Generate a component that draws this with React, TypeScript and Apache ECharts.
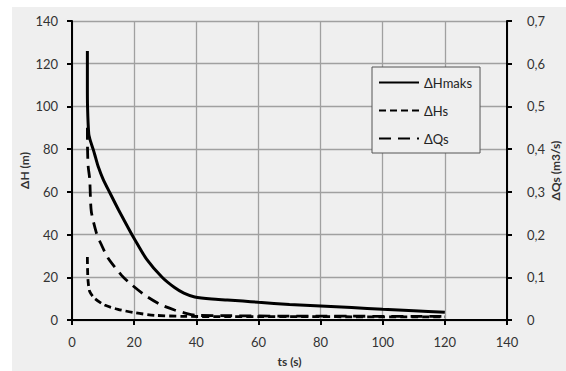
import React, { useEffect, useRef } from "react";
import * as echarts from "echarts";

// ΔHmaks (left axis, m)
const tHmaks = [4.95, 4.95, 5.0, 5.4, 6.0, 6.8, 7.6, 8.4, 10.0, 12.1, 15.0, 18.9, 20.0, 24.0, 29.0, 33.0, 36.0, 39.5, 45.0, 50.0, 55.0, 60.0, 70.0, 80.0, 90.0, 100.0, 110.0, 120.0];
const hmaks = [126, 110, 100, 87, 83.5, 80, 76, 72, 66, 59.8, 51.5, 41, 38.2, 28.5, 20, 15.2, 12.6, 10.8, 9.8, 9.4, 8.9, 8.3, 7.3, 6.6, 5.8, 5.0, 4.3, 3.6];

// ΔHs (left axis, m)
const tHs = [4.95, 5.0, 5.15, 5.7, 7.3, 10.5, 14.8, 20.2, 26.6, 36.3, 50, 60, 70, 80, 90, 100, 110, 120];
const hs = [29.5, 24, 18.7, 13.3, 10.1, 7.0, 5.0, 3.4, 2.2, 1.7, 1.6, 1.6, 1.6, 1.6, 1.5, 1.5, 1.5, 1.5];

// ΔQs (right axis, m3/s)
const tQs = [4.95, 5.0, 5.2, 5.7, 6.2, 7.8, 8.9, 11.6, 15.9, 18.0, 23.4, 28.8, 33.0, 37.0, 40.0, 50, 60, 70, 80, 90, 100, 110, 120];
const qs = [0.45, 0.4, 0.36, 0.33, 0.255, 0.205, 0.185, 0.145, 0.105, 0.09, 0.0585, 0.035, 0.0235, 0.015, 0.011, 0.01, 0.0095, 0.009, 0.009, 0.009, 0.0085, 0.0085, 0.0085];

const xTicks = { min: 0, max: 140, interval: 20 };
const leftTicks = { min: 0, max: 140, interval: 20 };
const rightTicks = { min: 0, max: 0.7, interval: 0.1 };

const zip = (a: number[], b: number[]) => a.map((v, i) => [v, b[i]]);

const FONT = "Lato, 'Open Sans', sans-serif";
const TXT = "#333333";

export default function App() {
  const ref = useRef<HTMLDivElement>(null);
  useEffect(() => {
    if (!ref.current) return;
    const chart = echarts.init(ref.current, undefined, { renderer: "svg" });
    const axisLine = { show: true, lineStyle: { color: "#000", width: 2 } };
    const axisTick = { show: true, length: 5, lineStyle: { color: "#000", width: 2 } };
    const splitLine = { show: true, lineStyle: { color: "#a0a0a0", width: 1.3 } };
    chart.setOption({
      animation: false,
      textStyle: { fontFamily: FONT },
      graphic: {
        z: -100,
        elements: [
          { type: "rect", z: -100, silent: true, shape: { x: 12, y: 7, width: 560, height: 370 }, style: { fill: "#efefef" } },
        ],
      },
      grid: { left: 72, right: 59, top: 21, bottom: 51, outerBoundsMode: "none", containLabel: false },
      legend: {
        orient: "vertical",
        left: 372,
        top: 67,
        itemWidth: 40,
        itemHeight: 14,
        itemGap: 15,
        padding: [9, 8, 8, 6],
        borderColor: "#555",
        borderWidth: 1,
        backgroundColor: "#efefef",
        itemStyle: { opacity: 0 },
        textStyle: { fontFamily: FONT, fontSize: 13, color: "#222" },
        data: ["ΔHmaks", "ΔHs", "ΔQs"],
      },
      xAxis: {
        type: "value",
        ...xTicks,
        name: "ts (s)",
        nameLocation: "middle",
        nameGap: 35,
        nameMoveOverlap: false,
        nameTextStyle: { fontFamily: FONT, fontSize: 12, fontWeight: "bold", color: TXT },
        axisLine: { ...axisLine, onZero: false },
        axisTick,
        splitLine,
        axisLabel: { margin: 15, fontSize: 13, color: TXT, fontFamily: FONT },
      },
      yAxis: [
        {
          type: "value",
          ...leftTicks,
          position: "left",
          name: "ΔH (m)",
          nameLocation: "middle",
          nameRotate: 90,
          nameGap: 42,
          nameMoveOverlap: false,
          nameTextStyle: { fontFamily: FONT, fontSize: 12, fontWeight: "bold", color: TXT },
          axisLine,
          axisTick,
          splitLine,
          axisLabel: { margin: 14, fontSize: 13, color: TXT, fontFamily: FONT },
        },
        {
          type: "value",
          ...rightTicks,
          position: "right",
          name: "ΔQs (m3/s)",
          nameLocation: "middle",
          nameRotate: 90,
          nameGap: 42,
          nameMoveOverlap: false,
          nameTextStyle: { fontFamily: FONT, fontSize: 12, fontWeight: "bold", color: TXT },
          axisLine,
          axisTick,
          splitLine: { show: false },
          axisLabel: {
            margin: 20,
            fontSize: 13,
            color: TXT,
            fontFamily: FONT,
            formatter: (v: number) => (v === 0 ? "0" : v.toFixed(1).replace(".", ",")),
          },
        },
      ],
      series: [
        {
          name: "ΔHmaks",
          type: "line",
          yAxisIndex: 0,
          data: zip(tHmaks, hmaks),
          symbol: "none",
          smooth: 0.25,
          lineStyle: { color: "#000", width: 3, type: "solid" },
          itemStyle: { color: "#000" },
        },
        {
          name: "ΔHs",
          type: "line",
          yAxisIndex: 0,
          data: zip(tHs, hs),
          symbol: "none",
          smooth: 0.25,
          lineStyle: { color: "#000", width: 2.8, type: [7, 4] },
          itemStyle: { color: "#000" },
        },
        {
          name: "ΔQs",
          type: "line",
          yAxisIndex: 1,
          data: zip(tQs, qs),
          symbol: "none",
          smooth: 0.25,
          lineStyle: { color: "#000", width: 2.8, type: [12, 7] },
          itemStyle: { color: "#000" },
        },
      ],
    });
    return () => chart.dispose();
  }, []);
  return (
    <div style={{ position: "absolute", left: 0, top: 0, width: 566, height: 371, background: "#fff" }}>
      <div ref={ref} style={{ width: 566, height: 371 }} />
    </div>
  );
}
